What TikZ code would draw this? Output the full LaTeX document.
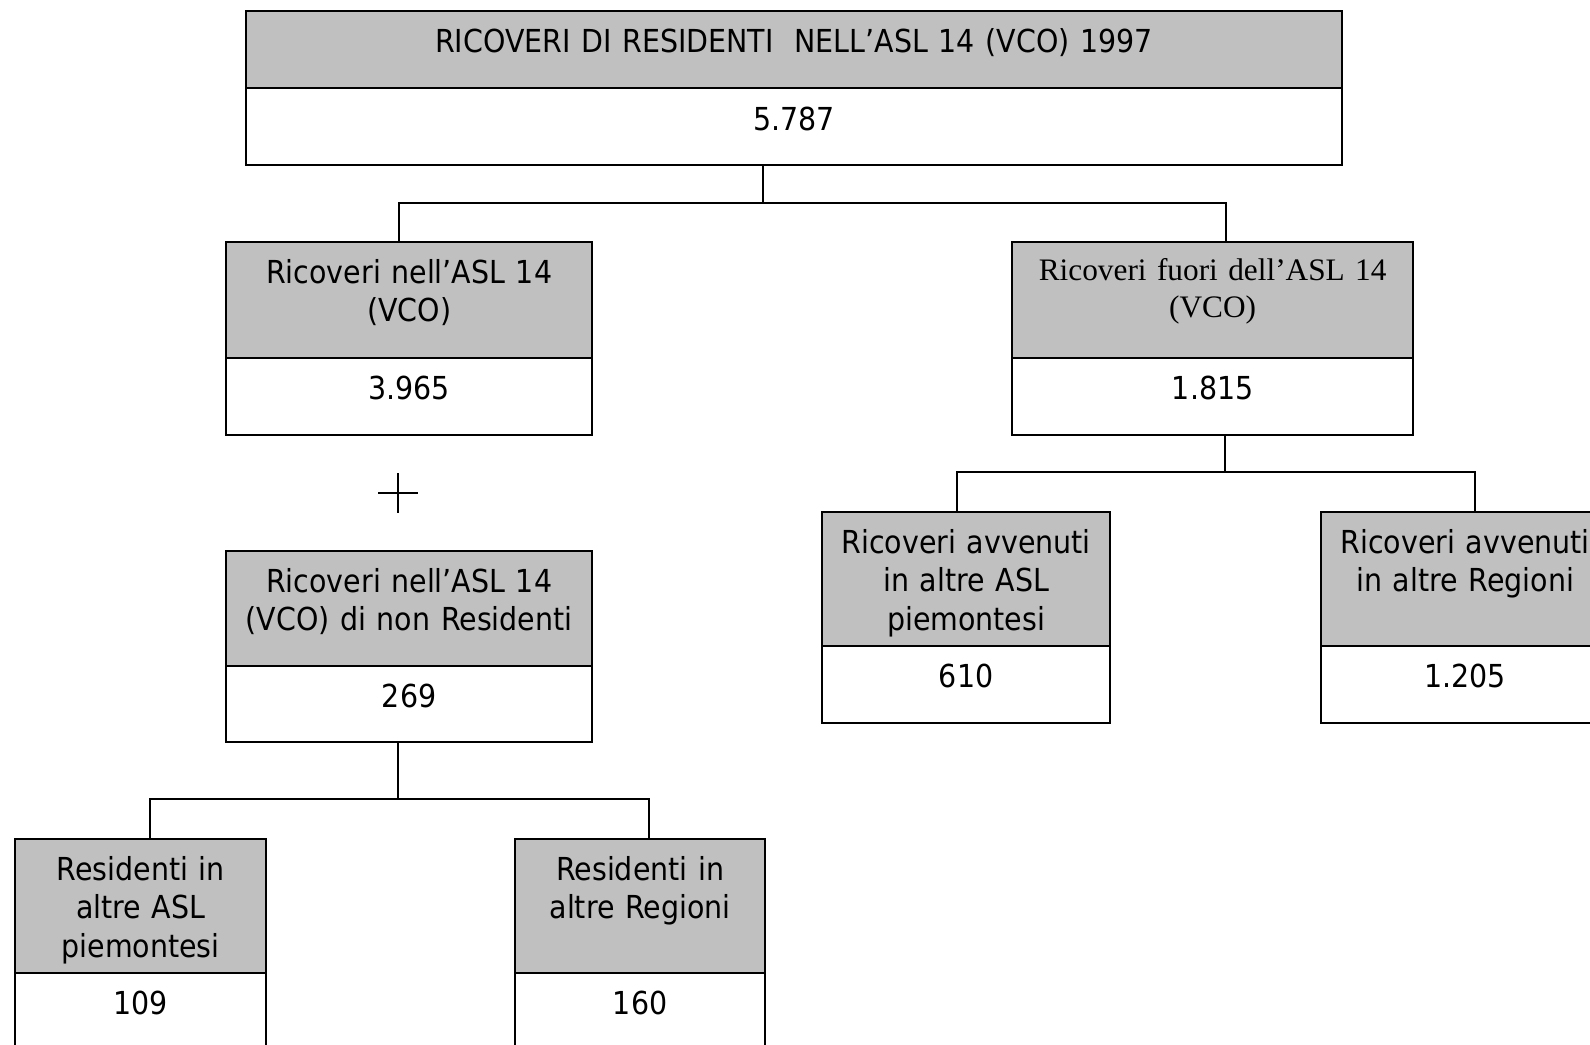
\documentclass[tikz,border=0pt]{standalone}
\usepackage{fontspec}
\setmainfont{DejaVu Sans}[FakeStretch=0.9]
\newfontfamily\romano{Liberation Serif}
\usetikzlibrary{calc}
\definecolor{grigio}{RGB}{192,192,192}
\tikzset{
	testa/.style={draw, fill=grigio, line width=0.6pt, inner sep=0pt, anchor=north west},
	valore/.style={draw, fill=white, line width=0.6pt, inner sep=0pt, anchor=north west},
	scritta/.style={anchor=base, align=center, inner sep=0pt, font=\fontsize{9}{11}\selectfont},
	ramo/.style={line width=0.6pt},
}

\begin{document}
\begin{tikzpicture}[x=0.01cm, y=-0.01cm]
		%%%%% START %%%%%
		\useasboundingbox (0, 0) rectangle (1590, 1045);
		\clip (0, 0) rectangle (1590, 1045);
		
		% totale
		\node[testa, minimum width=10.95cm, minimum height=0.77cm] (ttot) at (245, 10) {};
		\node[valore, minimum width=10.95cm, minimum height=0.77cm] (vtot) at (245, 87) {};
		\node[scritta, text width=10.5cm] (ltot) at ($(ttot.north)+(0, 42)$) {RICOVERI DI RESIDENTI\ \ NELL’ASL 14 (VCO) 1997};
		\node[scritta, text width=10.5cm] (ntot) at ($(vtot.north)+(0, 43)$) {5.787};
		
		% nell'ASL
		\node[testa, minimum width=3.66cm, minimum height=1.16cm] (tsx) at (225, 241) {};
		\node[valore, minimum width=3.66cm, minimum height=0.77cm] (vsx) at (225, 357) {};
		\node[scritta, text width=3.6cm] (lsx) at ($(tsx.north)+(0, 42)$) {Ricoveri nell’ASL 14\\(VCO)};
		\node[scritta, text width=3.6cm] (nsx) at ($(vsx.north)+(0, 42)$) {3.965};
		
		% fuori dell'ASL
		\node[testa, minimum width=4.01cm, minimum height=1.16cm] (tdx) at (1011, 241) {};
		\node[valore, minimum width=4.01cm, minimum height=0.77cm] (vdx) at (1011, 357) {};
		\node[scritta, text width=3.9cm, font=\romano\fontsize{8.9}{10.7}\selectfont] (ldx) at ($(tdx.north)+(0, 39)$) {Ricoveri fuori dell’ASL 14\\(VCO)};
		\node[scritta, text width=3.9cm] (ndx) at ($(vdx.north)+(0, 42)$) {1.815};
		
		% piu'
		\coordinate (piu) at (398, 493);
		\draw[ramo] ($(piu)+(-20, 0)$) -- ($(piu)+(20, 0)$);
		\draw[ramo] ($(piu)+(0, -20)$) -- ($(piu)+(0, 20)$);
		
		% non residenti
		\node[testa, minimum width=3.66cm, minimum height=1.15cm] (tnr) at (225, 550) {};
		\node[valore, minimum width=3.66cm, minimum height=0.76cm] (vnr) at (225, 665) {};
		\node[scritta, text width=3.6cm] (lnr) at ($(tnr.north)+(0, 42)$) {Ricoveri nell’ASL 14\\(VCO) di non Residenti};
		\node[scritta, text width=3.6cm] (nnr) at ($(vnr.north)+(0, 42)$) {269};
		
		% altre ASL piemontesi
		\node[testa, minimum width=2.88cm, minimum height=1.34cm] (tap) at (821, 511) {};
		\node[valore, minimum width=2.88cm, minimum height=0.77cm] (vap) at (821, 645) {};
		\node[scritta, text width=2.85cm] (lap) at ($(tap.north)+(0, 42)$) {Ricoveri avvenuti\\in altre ASL\\piemontesi};
		\node[scritta, text width=2.85cm] (nap) at ($(vap.north)+(0, 42)$) {610};
		
		% altre Regioni
		\node[testa, minimum width=2.88cm, minimum height=1.34cm] (tar) at (1320, 511) {};
		\node[valore, minimum width=2.88cm, minimum height=0.77cm] (var) at (1320, 645) {};
		\node[scritta, text width=2.85cm] (lar) at ($(tar.north)+(0, 42)$) {Ricoveri avvenuti\\in altre Regioni};
		\node[scritta, text width=2.85cm] (nar) at ($(var.north)+(0, 42)$) {1.205};
		
		% residenti in altre ASL
		\node[testa, minimum width=2.51cm, minimum height=1.34cm] (tra) at (14, 838) {};
		\node[valore, minimum width=2.51cm, minimum height=0.77cm] (vra) at (14, 972) {};
		\node[scritta, text width=2.45cm] (lra) at ($(tra.north)+(0, 42)$) {Residenti in\\altre ASL\\piemontesi};
		\node[scritta, text width=2.45cm] (nra) at ($(vra.north)+(0, 42)$) {109};
		
		% residenti in altre Regioni
		\node[testa, minimum width=2.50cm, minimum height=1.34cm] (trr) at (514, 838) {};
		\node[valore, minimum width=2.50cm, minimum height=0.77cm] (vrr) at (514, 972) {};
		\node[scritta, text width=2.45cm] (lrr) at ($(trr.north)+(0, 42)$) {Residenti in\\altre Regioni};
		\node[scritta, text width=2.45cm] (nrr) at ($(vrr.north)+(0, 42)$) {160};
		
		% rami
		\coordinate (n1) at (763, 203);
		\draw[ramo] (vtot.south -| n1) -- (n1);
		\draw[ramo] ($(tsx.north)+(-10, 0)$) |- (n1) -| ($(tdx.north)+(13.5, 0)$);
		
		\coordinate (n2) at (1225, 472);
		\draw[ramo] (vdx.south -| n2) -- (n2);
		\draw[ramo] ($(tap.north)+(-9, 0)$) |- (n2) -| ($(tar.north)+(10, 0)$);
		
		\coordinate (n3) at (398, 799);
		\draw[ramo] (vnr.south -| n3) -- (n3);
		\draw[ramo] ($(tra.north)+(9.5, 0)$) |- (n3) -| ($(trr.north)+(9, 0)$);
		
		%%%%% END %%%%%
\end{tikzpicture}
\end{document}
